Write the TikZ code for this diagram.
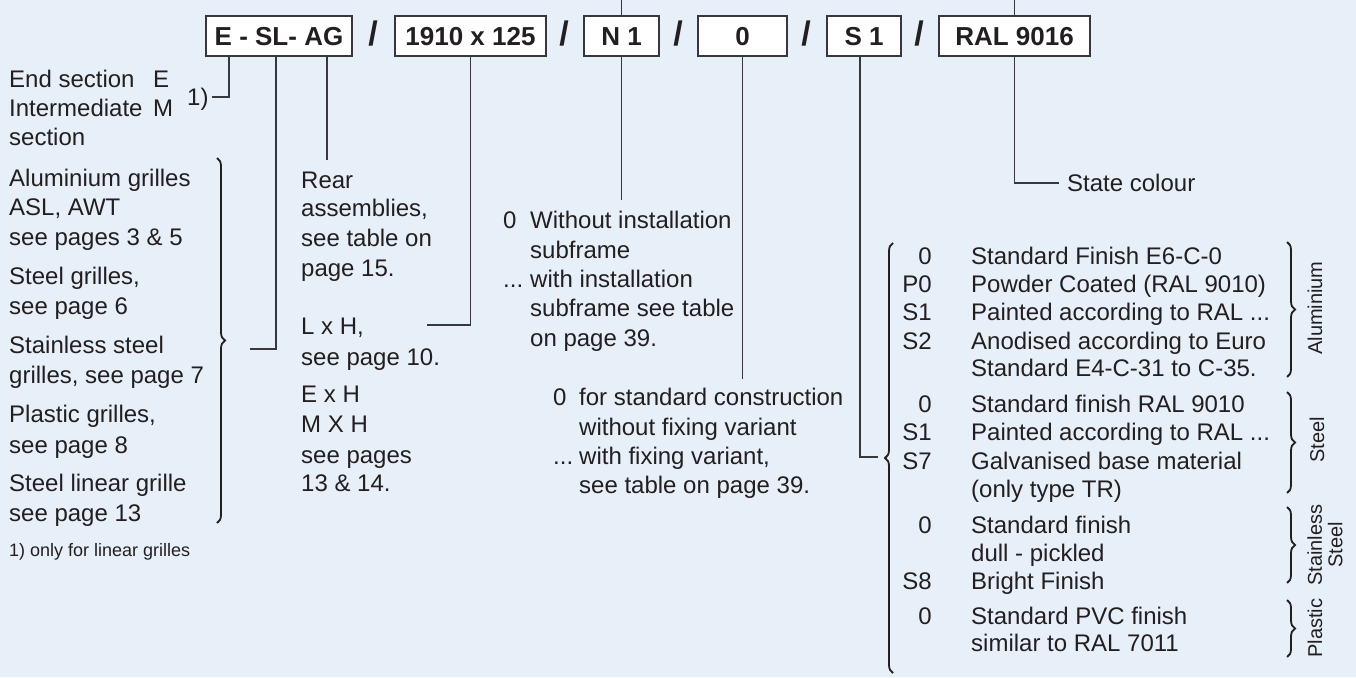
\documentclass[tikz,border=0pt]{standalone}
\usepackage{fontspec}
\setmainfont{Liberation Sans}
\usetikzlibrary{decorations.pathreplacing}
\definecolor{bg}{RGB}{231,239,249}
\definecolor{ink}{RGB}{35,31,32}
\definecolor{lnc}{RGB}{55,55,60}
\newcommand\mytl[4]{\node[txt] (#1) at (#2,#3) {#4};}
\newcommand\mycode[4]{\node[codetxt] (#1) at (#2,#3) {#4};}
\begin{document}
\begin{tikzpicture}[x=1pt,y=-1pt,
  txt/.style={anchor=base west,inner sep=0pt,text=ink,font=\fontsize{24}{28}\selectfont},
  codetxt/.style={txt,anchor=base east},
  boxn/.style={draw=lnc,line width=2pt,fill=white,minimum height=40pt,inner sep=0pt,
    text height=18.7pt,text depth=0pt,text=ink,font=\bfseries\fontsize{26}{30}\selectfont},
  sl/.style={anchor=base,inner sep=0pt,text=ink,font=\bfseries\fontsize{34}{36}\selectfont},
  ln/.style={draw=lnc,line width=1.5pt},
  brc/.style={draw=ink,line width=1.8pt,decorate,decoration={brace,amplitude=8pt}},
  side/.style={rotate=90,inner sep=0pt,text=ink,align=center,font=\fontsize{20}{20.5}\selectfont}]
\useasboundingbox (0,0) rectangle (1356,677);
\fill[bg] (0,0) rectangle (1356,677);

% code boxes
\node[boxn,minimum width=146pt] (b1) at (279,36) {E - SL- AG};
\node[boxn,minimum width=151pt] (b2) at (470.5,36) {1910 x 125};
\node[boxn,minimum width=75pt] (b3) at (621.5,36) {N 1};
\node[boxn,minimum width=89pt] (b4) at (742.5,36) {0};
\node[boxn,minimum width=74pt] (b5) at (864,36) {S 1};
\node[boxn,minimum width=151pt] (b6) at (1014.5,36) {RAL 9016};
\node[sl] (s1) at (373,46) {/};
\node[sl] (s2) at (564,46) {/};
\node[sl] (s3) at (678,46) {/};
\node[sl] (s4) at (806,46) {/};
\node[sl] (s5) at (919,46) {/};

% left column
\mytl{l1}{9}{87.5}{End section}
\mytl{l1e}{153}{87.5}{E}
\mytl{l2}{9}{116.5}{Intermediate}
\mytl{l2m}{153}{116.5}{M}
\mytl{l3}{9}{145.5}{section}
\mytl{fn}{187}{105.5}{1)}
\mytl{l4}{9}{186.5}{Aluminium grilles}
\mytl{l5}{9}{215.5}{ASL, AWT}
\mytl{l6}{9}{245.5}{see pages 3 \& 5}
\mytl{l7}{9}{284.5}{Steel grilles,}
\mytl{l8}{9}{314.5}{see page 6}
\mytl{l9}{9}{353.5}{Stainless steel}
\mytl{l10}{9}{383.5}{grilles, see page 7}
\mytl{l11}{9}{422.5}{Plastic grilles,}
\mytl{l12}{9}{453.5}{see page 8}
\mytl{l13}{9}{491.5}{Steel linear grille}
\mytl{l14}{9}{521.5}{see page 13}
\node[txt,font=\fontsize{18}{21}\selectfont] (foot) at (9,556.5) {1) only for linear grilles};

% middle column
\mytl{m1}{301}{188.5}{Rear}
\mytl{m2}{301}{216.5}{assemblies,}
\mytl{m3}{301}{246.5}{see table on}
\mytl{m4}{301}{276.5}{page 15.}
\mytl{m5}{301}{334.5}{L x H,}
\mytl{m6}{301}{365.5}{see page 10.}
\mytl{m7}{301}{402.5}{E x H}
\mytl{m8}{301}{432.5}{M X H}
\mytl{m9}{301}{463.5}{see pages}
\mytl{m10}{301}{491.5}{13 \& 14.}

% N 1 group
\mytl{n1c}{503}{228.5}{0}
\mytl{n1}{530}{228.5}{Without installation}
\mytl{n2}{530}{258.5}{subframe}
\mytl{n3c}{503}{287.5}{...}
\mytl{n3}{530}{287.5}{with installation}
\mytl{n4}{530}{316.5}{subframe see table}
\mytl{n5}{530}{346.5}{on page 39.}

% 0 group
\mytl{f1c}{553}{405.5}{0}
\mytl{f1}{579}{405.5}{for standard construction}
\mytl{f2}{579}{435.5}{without fixing variant}
\mytl{f3c}{553}{464.5}{...}
\mytl{f3}{579}{464.5}{with fixing variant,}
\mytl{f4}{579}{493.5}{see table on page 39.}

% colour
\mytl{sc}{1067}{191.5}{State colour}

% finishes
\mycode{r1c}{932}{264.5}{0}
\mytl{r1}{971}{264.5}{Standard Finish E6-C-0}
\mycode{r2c}{932}{292.5}{P0}
\mytl{r2}{971}{292.5}{Powder Coated (RAL 9010)}
\mycode{r3c}{932}{320.5}{S1}
\mytl{r3}{971}{320.5}{Painted according to RAL ...}
\mycode{r4c}{932}{349.5}{S2}
\mytl{r4}{971}{349.5}{Anodised according to Euro}
\mytl{r5}{971}{376.5}{Standard E4-C-31 to C-35.}
\mycode{r6c}{932}{412.5}{0}
\mytl{r6}{971}{412.5}{Standard finish RAL 9010}
\mycode{r7c}{932}{440.5}{S1}
\mytl{r7}{971}{440.5}{Painted according to RAL ...}
\mycode{r8c}{932}{469.5}{S7}
\mytl{r8}{971}{469.5}{Galvanised base material}
\mytl{r9}{971}{497.5}{(only type TR)}
\mycode{r10c}{932}{533.5}{0}
\mytl{r10}{971}{533.5}{Standard finish}
\mytl{r11}{971}{561.5}{dull - pickled}
\mycode{r12c}{932}{589.5}{S8}
\mytl{r12}{971}{589.5}{Bright Finish}
\mycode{r13c}{932}{624.5}{0}
\mytl{r13}{971}{624.5}{Standard PVC finish}
\mytl{r14}{971}{651.5}{similar to RAL 7011}

% side labels
\node[side] (gal) at (1315,308) {Aluminium};
\node[side] (gst) at (1317,440) {Steel};
\node[side] (gss) at (1325,545) {Stainless\\Steel};
\node[side] (gpl) at (1315,628) {Plastic};

% braces
\draw[brc] (217,158) -- (217,523);
\draw[brc] (893,673) -- (893,243);
\draw[brc] (1287,242) -- (1287,377);
\draw[brc] (1287,392) -- (1287,493);
\draw[brc] (1287,507) -- (1287,583);
\draw[brc] (1287,600) -- (1287,657);

% connector coordinates
\coordinate (k1) at (229,97);
\coordinate (e1) at (212,97);
\coordinate (k2) at (276,349);
\coordinate (e2) at (250,349);
\coordinate (e3) at (327,160);
\coordinate (e4) at (427,325);
\coordinate (e5) at (621,200);
\coordinate (t3) at (621,0);
\coordinate (e6) at (741,379);
\coordinate (k7) at (860,457);
\coordinate (e7) at (878,457);
\coordinate (e8) at (1059,183);
\coordinate (t6) at (1014,0);

\draw[ln] (b1.south -| k1) -- (k1) -- (e1);
\draw[ln] (b1.south -| k2) -- (k2) -- (e2);
\draw[ln] (b1.south -| e3) -- (e3);
\draw[ln] (b2.south) |- (e4);
\draw[ln] (b3.south) -- (b3.south |- e5);
\draw[ln] (b3.north) -- (b3.north |- t3);
\draw[ln] (b4.south) -- (b4.south |- e6);
\draw[ln] (b5.south -| k7) -- (k7) -- (e7);
\draw[ln] (b6.south) |- (e8);
\draw[ln] (b6.north) -- (b6.north |- t6);
\end{tikzpicture}
\end{document}
